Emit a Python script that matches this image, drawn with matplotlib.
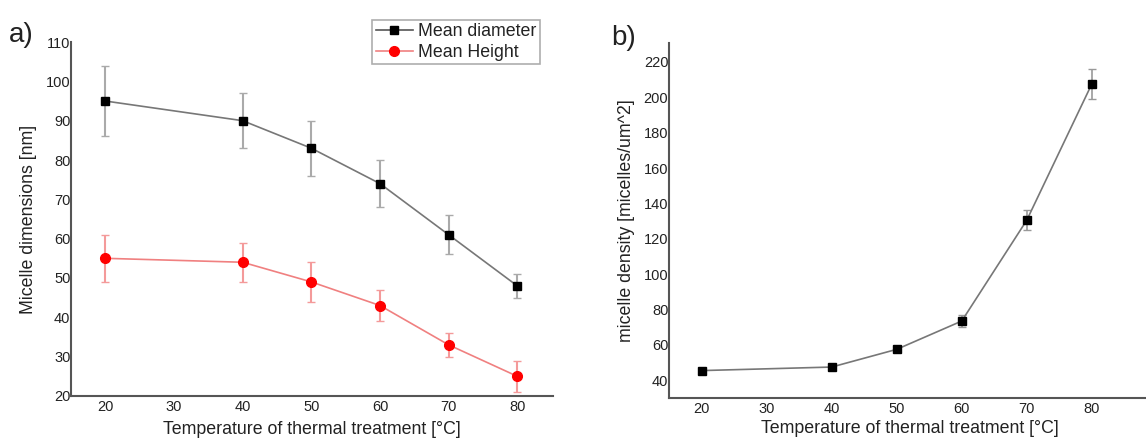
import matplotlib.pyplot as plt
from matplotlib.lines import Line2D

plt.rcParams['font.family'] = ['Liberation Sans', 'DejaVu Sans']

# panel a data
temp = [20, 40, 50, 60, 70, 80]
diameter = [95, 90, 83, 74, 61, 48]
diameter_err = [9, 7, 7, 6, 5, 3]
height = [55, 54, 49, 43, 33, 25]
height_err = [6, 5, 5, 4, 3, 4]

# panel b data
density = [45.5, 47.5, 57.5, 73.5, 130.5, 207.5]
density_err = [1, 1, 1, 3.5, 5.5, 8.5]

xticks = [20, 30, 40, 50, 60, 70, 80]
yticks_a = [20, 30, 40, 50, 60, 70, 80, 90, 100, 110]
yticks_b = [40, 60, 80, 100, 120, 140, 160, 180, 200, 220]

fig = plt.figure(figsize=(11.46, 4.38), dpi=100)
ax1 = fig.add_axes([0.062, 0.096, 0.4205, 0.808])
ax2 = fig.add_axes([0.5838, 0.0913, 0.42, 0.8107])

spine_col = '#555555'
txt_col = '#222222'
for ax in (ax1, ax2):
    for s in ('top', 'right'):
        ax.spines[s].set_visible(False)
    for s in ('left', 'bottom'):
        ax.spines[s].set_color(spine_col)
        ax.spines[s].set_linewidth(1.5)
    ax.tick_params(length=0, labelsize=10.5, colors=txt_col)
    ax.tick_params(axis='x', pad=3)
    ax.tick_params(axis='y', pad=0.5)
    ax.set_xticks(xticks)

ax1.errorbar(temp, diameter, yerr=diameter_err, color='#777777', lw=1.2,
             marker='s', ms=6, mfc='black', mec='black', ecolor='#aaaaaa',
             elinewidth=1.5, capsize=3)
ax1.errorbar(temp, height, yerr=height_err, color='#f08080', lw=1.2,
             marker='o', ms=7, mfc='red', mec='red', ecolor='#f49a9a',
             elinewidth=1.5, capsize=3)
ax1.set_xlim(15, 85.2)
ax1.set_ylim(20, 110)
ax1.set_yticks(yticks_a)
ax1.set_xlabel('Temperature of thermal treatment [°C]', fontsize=12.8, color=txt_col, labelpad=5)
ax1.set_ylabel('Micelle dimensions [nm]', fontsize=12.8, color=txt_col, labelpad=6)

handles = [
    Line2D([], [], color='#555555', lw=1.2, marker='s', ms=6, mfc='black', mec='black'),
    Line2D([], [], color='#f08080', lw=1.2, marker='o', ms=7, mfc='red', mec='red'),
]
leg = ax1.legend(handles, ['Mean diameter', 'Mean Height'], loc='upper right',
                 bbox_to_anchor=(0.4715, 0.955), bbox_transform=fig.transFigure,
                 fontsize=12.8, frameon=True, fancybox=False, handlelength=2.1,
                 borderpad=0.2, labelspacing=0.2, handletextpad=0.3, borderaxespad=0)
leg.get_frame().set_edgecolor('#999999')
leg.get_frame().set_linewidth(1.2)
for t in leg.get_texts():
    t.set_color(txt_col)

ax2.errorbar(temp, density, yerr=density_err, color='#777777', lw=1.2,
             marker='s', ms=6, mfc='black', mec='black', ecolor='#999999',
             elinewidth=1.2, capsize=3)
ax2.set_xlim(15, 89)
ax2.set_ylim(30, 230.7)
ax2.set_yticks(yticks_b)
ax2.set_xlabel('Temperature of thermal treatment [°C]', fontsize=12.8, color=txt_col, labelpad=2.5)
ax2.set_ylabel('micelle density [micelles/um^2]', fontsize=12.8, color=txt_col, labelpad=6)

fig.text(0.008, 0.905, 'a)', fontsize=20, color=txt_col)
fig.text(0.533, 0.898, 'b)', fontsize=20, color=txt_col)

fig.savefig('out.png', dpi=100)
